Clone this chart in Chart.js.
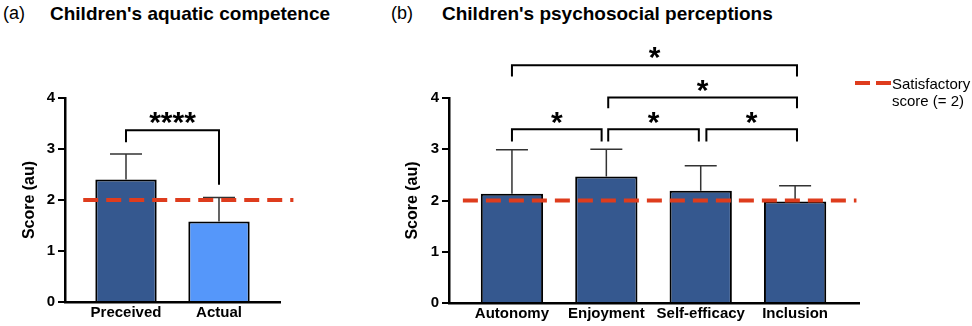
<!DOCTYPE html>
<html>
<head>
<meta charset="utf-8">
<script src="https://cdn.jsdelivr.net/npm/chart.js@4"></script>
<style>
  html, body { margin: 0; padding: 0; background: #fff; }
  body { width: 972px; height: 326px; position: relative; overflow: hidden; font-family: Arial, 'Liberation Sans', sans-serif; }
  .panel { position: absolute; top: 4px; font-size: 18px; line-height: 19px; color: #000; }
  .title { position: absolute; top: 4px; font-size: 19px; line-height: 19px; font-weight: bold; color: #000; white-space: nowrap; }
  canvas { position: absolute; top: 0; }
</style>
</head>
<body>
<div class="panel" style="left:3px">(a)</div>
<div class="title" style="left:50px">Children's aquatic competence</div>
<div class="panel" style="left:391px">(b)</div>
<div class="title" style="left:442px">Children's psychosocial perceptions</div>
<canvas id="chartA" width="320" height="326" style="left:0"></canvas>
<canvas id="chartB" width="592" height="326" style="left:380px"></canvas>
<script>
  // panel (a)
  const catsA = ['Preceived', 'Actual'];
  const meansA = [2.40, 1.58];
  const sdTopA = [2.90, 2.05];
  const colorsA = ['#35588f', '#5597fa'];
  // bracket: from/to category index, y = bar of bracket, leg ends, label
  const bracketsA = [
    { from: 0, to: 1, y: 3.37, endL: 3.13, endR: 2.30, label: '****' }
  ];

  // panel (b)
  const catsB = ['Autonomy', 'Enjoyment', 'Self-efficacy', 'Inclusion'];
  const meansB = [2.13, 2.47, 2.19, 1.98];
  const sdTopB = [2.99, 3.00, 2.68, 2.29];
  const colorsB = ['#35588f', '#35588f', '#35588f', '#35588f'];
  const bracketsB = [
    { from: 0, to: 3.02, y: 4.64, endL: 4.42, endR: 4.42, label: '*' },
    { from: 1.02, to: 3.02, y: 4.01, endL: 3.80, endR: 3.80, label: '*' },
    { from: 0, to: 0.95, y: 3.39, endL: 3.15, endR: 3.15, label: '*' },
    { from: 1.02, to: 1.98, y: 3.39, endL: 3.15, endR: 3.15, label: '*' },
    { from: 2.06, to: 3.02, y: 3.39, endL: 3.15, endR: 3.15, label: '*' }
  ];

  const satisfactory = 2;
  const legendLines = ['Satisfactory', 'score (= 2)'];

  const FONT = "Arial, 'Liberation Sans', sans-serif";
  const RED = '#de3c1d';

  /**
   * Error bars, reference line, brackets, legend
   */
  const overlay = {
    id: 'overlay',
    afterDatasetsDraw(chart, args, opts) {
      const ctx = chart.ctx;
      const x = chart.scales.x, y = chart.scales.y;
      const meta = chart.getDatasetMeta(0);
      ctx.save();
      // error bars (upper only)
      ctx.strokeStyle = '#333';
      ctx.lineWidth = 1.5;
      meta.data.forEach((el, i) => {
        const top = y.getPixelForValue(opts.sdTop[i]);
        ctx.beginPath();
        ctx.moveTo(el.x, el.y);
        ctx.lineTo(el.x, top);
        ctx.moveTo(el.x - 16, top);
        ctx.lineTo(el.x + 16, top);
        ctx.stroke();
      });
      // satisfactory score line
      const ry = y.getPixelForValue(satisfactory);
      ctx.strokeStyle = RED;
      ctx.lineWidth = 4;
      ctx.setLineDash([15, 8]);
      ctx.beginPath();
      ctx.moveTo(x.getPixelForValue(opts.refFrom), ry);
      ctx.lineTo(x.getPixelForValue(opts.refTo), ry);
      ctx.stroke();
      ctx.restore();
    },
    afterDraw(chart, args, opts) {
      const ctx = chart.ctx;
      const x = chart.scales.x, y = chart.scales.y;
      ctx.save();
      ctx.strokeStyle = '#000';
      ctx.lineWidth = 2;
      ctx.fillStyle = '#000';
      ctx.textAlign = 'center';
      ctx.textBaseline = 'middle';
      ctx.font = 'bold 30px ' + FONT;
      opts.brackets.forEach(b => {
        const x1 = x.getPixelForValue(b.from), x2 = x.getPixelForValue(b.to);
        const yb = y.getPixelForValue(b.y);
        ctx.beginPath();
        ctx.moveTo(x1, y.getPixelForValue(b.endL));
        ctx.lineTo(x1, yb);
        ctx.lineTo(x2, yb);
        ctx.lineTo(x2, y.getPixelForValue(b.endR));
        ctx.stroke();
        ctx.fillText(b.label, (x1 + x2) / 2, yb - 6);
      });
      if (opts.legend) {
        const lx = 475, ly = 83;
        ctx.strokeStyle = RED;
        ctx.lineWidth = 4;
        ctx.setLineDash([15, 6]);
        ctx.beginPath();
        ctx.moveTo(lx, ly);
        ctx.lineTo(lx + 36, ly);
        ctx.stroke();
        ctx.font = '15px ' + FONT;
        ctx.textAlign = 'left';
        ctx.textBaseline = 'alphabetic';
        ctx.fillText(legendLines[0], lx + 37, 89);
        ctx.fillText(legendLines[1], lx + 37, 106);
      }
      ctx.restore();
    }
  };

  function makeChart(canvasId, cats, means, colors, cfg) {
    const tickFont = { family: FONT, size: 15, weight: 'bold' };
    return new Chart(document.getElementById(canvasId), {
      type: 'bar',
      data: {
        datasets: [{
          data: means.map((v, i) => ({ x: i, y: v })),
          backgroundColor: colors,
          borderColor: '#000',
          borderWidth: 2,
          barPercentage: 0.66,
          categoryPercentage: 1
        }]
      },
      options: {
        responsive: false,
        animation: false,
        events: [],
        layout: { padding: { top: 98, right: cfg.padRight, left: 0, bottom: 0 } },
        plugins: {
          legend: { display: false },
          tooltip: { enabled: false },
          overlay: cfg.overlay
        },
        scales: {
          x: {
            type: 'linear',
            offset: false,
            min: cfg.xMin,
            max: cfg.xMax,
            afterBuildTicks: s => { s.ticks = cats.map((c, i) => ({ value: i })); },
            afterFit: s => { s.height = cfg.xHeight; },
            ticks: {
              callback: v => cats[v],
              font: tickFont,
              color: '#000',
              padding: 2,
              autoSkip: false,
              maxRotation: 0
            },
            grid: { display: false, drawTicks: false },
            border: { color: '#000', width: 2.5 }
          },
          y: {
            min: 0,
            max: 4,
            afterFit: s => { s.width = cfg.yWidth; },
            ticks: { stepSize: 1, font: tickFont, color: '#000', padding: 3 },
            grid: { drawOnChartArea: false, drawTicks: true, tickLength: 7, color: '#000', lineWidth: 2 },
            border: { color: '#000', width: 2.5 },
            title: {
              display: true,
              text: 'Score (au)',
              color: '#000',
              font: { family: FONT, size: 16, weight: 'bold' },
              padding: { top: cfg.titlePad, bottom: 0 }
            }
          }
        }
      },
      plugins: [overlay]
    });
  }

  makeChart('chartA', catsA, meansA, colorsA, {
    padRight: 40, xMin: -0.656, xMax: 1.656, xHeight: 24, yWidth: 65, titlePad: 20,
    overlay: { sdTop: sdTopA, brackets: bracketsA, refFrom: -0.46, refTo: 1.80, legend: false }
  });

  makeChart('chartB', catsB, meansB, colorsB, {
    padRight: 113, xMin: -0.667, xMax: 3.677, xHeight: 23, yWidth: 69, titlePad: 23,
    overlay: { sdTop: sdTopB, brackets: bracketsB, refFrom: -0.52, refTo: 3.65, legend: true }
  });
</script>
</body>
</html>
